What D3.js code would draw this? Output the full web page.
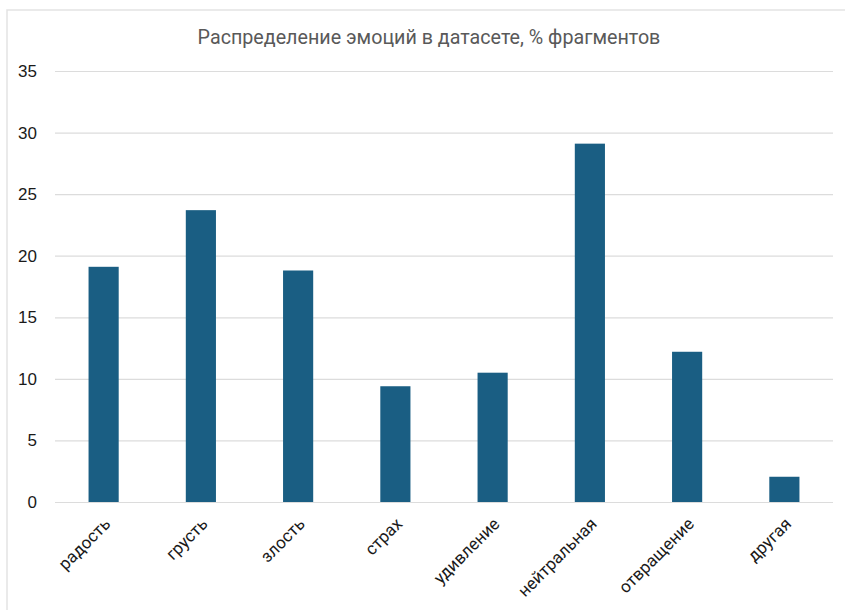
<!DOCTYPE html>
<html>
<head>
<meta charset="utf-8">
<script src="https://cdn.jsdelivr.net/npm/d3@7"></script>
<style>
  html, body { margin: 0; padding: 0; background: #fff; }
  svg { display: block; }
</style>
</head>
<body>
<svg id="chart"></svg>
<script>
// Emotion distribution data (% of fragments)
const emotions = ["радость", "грусть", "злость", "страх", "удивление", "нейтральная", "отвращение", "другая"];
const shares = [19.1, 23.7, 18.8, 9.4, 10.5, 29.1, 12.2, 2.05];
const yTicks = [0, 5, 10, 15, 20, 25, 30, 35];
const chartTitle = "Распределение эмоций в датасете, % фрагментов";

const width = 845, height = 610;
const margin = { top: 71, right: 12, bottom: 108, left: 55 };

const svg = d3.select("#chart")
    .attr("width", width)
    .attr("height", height);

// frame of the chart area (cropped at right and bottom)
svg.append("rect")
    .attr("x", 7).attr("y", 10)
    .attr("width", width + 20).attr("height", height + 20)
    .attr("fill", "none")
    .attr("stroke", "#e3e3e3")
    .attr("stroke-width", 1.5);

const x = d3.scaleBand()
    .domain(emotions)
    .range([margin.left, width - margin.right])
    .paddingInner(0.69)
    .paddingOuter(0.345);

const y = d3.scaleLinear()
    .domain([0, 35])
    .range([height - margin.bottom, margin.top]);

// gridlines + y labels
const yAxis = svg.append("g")
    .attr("transform", `translate(${margin.left},0)`)
    .call(d3.axisLeft(y)
        .tickValues(yTicks)
        .tickSize(-(width - margin.right - margin.left))
        .tickPadding(18));

yAxis.select(".domain").remove();
yAxis.selectAll(".tick line")
    .attr("stroke", "#dcdcdc")
    .attr("stroke-width", 1.2);
yAxis.selectAll(".tick text")
    .attr("font-family", "'Liberation Sans', Arial, sans-serif")
    .attr("font-size", 17)
    .attr("fill", "#1a1a1a");

// bars
svg.append("g")
    .selectAll("rect")
    .data(emotions)
    .join("rect")
    .attr("x", d => x(d))
    .attr("y", (d, i) => y(shares[i]))
    .attr("width", x.bandwidth())
    .attr("height", (d, i) => y(0) - y(shares[i]))
    .attr("fill", "#1a5e83");

// x labels, rotated
const xAxis = svg.append("g")
    .attr("transform", `translate(0,${y(0)})`)
    .call(d3.axisBottom(x).tickSize(0).tickPadding(0));

xAxis.select(".domain").remove();
xAxis.selectAll(".tick text")
    .attr("font-family", "Roboto, 'Noto Sans', sans-serif")
    .attr("font-size", 17)
    .attr("fill", "#1a1a1a")
    .attr("text-anchor", "end")
    .attr("dy", 0)
    .attr("transform", "translate(8,23) rotate(-45)");

// title
svg.append("text")
    .attr("x", 429)
    .attr("y", 44)
    .attr("text-anchor", "middle")
    .attr("font-family", "Roboto, 'Noto Sans', sans-serif")
    .attr("font-size", 19.7)
    .attr("fill", "#595959")
    .text(chartTitle);
</script>
</body>
</html>
